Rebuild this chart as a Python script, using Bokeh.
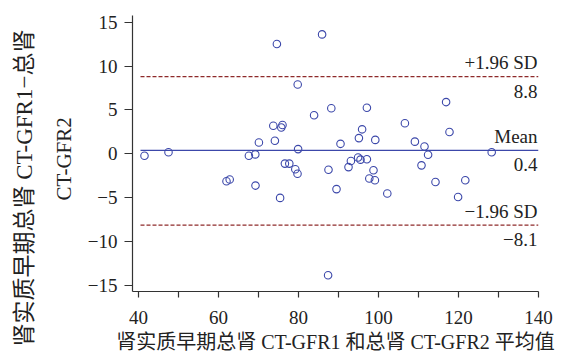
from bokeh.plotting import figure
from bokeh.models import Range1d, FixedTicker, Label, Title
from bokeh.embed import file_html
from bokeh.resources import INLINE

# ---- data ----
mean_vals = [41.5, 47.5, 62.0, 62.8, 67.6, 69.2, 69.25, 70.1, 74.6, 85.9,
             79.8, 88.2, 83.9, 73.7, 76.0, 75.7, 74.1, 79.9, 90.5, 95.1,
             76.6, 77.7, 79.2, 79.75, 87.5, 93.1, 92.5, 94.9, 89.5, 75.4,
             87.4, 97.1, 116.9, 106.6, 95.9, 117.75, 99.2, 109.1, 111.5, 112.4,
             95.5, 97.1, 98.75, 110.75, 97.7, 99.1, 114.25, 102.2, 119.9, 128.3,
             121.7]
diff_vals = [-0.2, 0.2, -3.1, -2.9, -0.2, -0.05, -3.6, 1.3, 12.5, 13.6,
             7.9, 5.2, 4.4, 3.2, 3.3, 3.0, 1.5, 0.55, 1.15, 1.8,
             -1.1, -1.1, -1.75, -2.25, -1.8, -0.8, -1.5, -0.4, -4.0, -5.0,
             -13.8, 5.25, 5.9, 3.5, 2.8, 2.5, 1.6, 1.4, 0.85, -0.1,
             -0.65, -0.6, -1.85, -1.3, -2.8, -3.0, -3.2, -4.5, -4.9, 0.2,
             -3.0]
mean_diff = 0.4
upper_loa = 8.8
lower_loa = -8.1
line_x = [40.5, 140]

x_ticks = [40, 50, 60, 70, 80, 90, 100, 110, 120, 130, 140]
x_tick_labels = ["40", "", "60", "", "80", "", "100", "", "120", "", "140"]
y_ticks = [-15, -10, -5, 0, 5, 10, 15]
y_tick_labels = ["−15", "−10", "−5", "0", "5", "10", "15"]

x_title = "肾实质早期总肾 CT-GFR1 和总肾 CT-GFR2 平均值"
y_title_1 = "肾实质早期总肾 CT-GFR1−总肾"
y_title_2 = "CT-GFR2"

SERIF = "Liberation Serif"
MIXED = "Liberation Serif, Noto Sans CJK SC"
TXT = "#222222"
BLUE = "#3c48aa"
RED = "#8e2a2a"

p = figure(frame_width=406, frame_height=276, output_backend="svg",
           toolbar_location=None,
           x_range=Range1d(38.5, 140), y_range=Range1d(-15.65, 15.75),
           min_border_left=132, min_border_right=20, min_border_top=15,
           min_border_bottom=60)
p.outline_line_color = None
p.grid.visible = False
p.background_fill_color = "white"

# reference lines
p.line(line_x, [upper_loa, upper_loa], line_color=RED, line_width=1.3, line_dash="4 2")
p.line(line_x, [lower_loa, lower_loa], line_color=RED, line_width=1.3, line_dash="4 2")
p.line(line_x, [mean_diff, mean_diff], line_color=BLUE, line_width=1.3)

p.scatter(mean_vals, diff_vals, marker="circle", size=7.5, fill_color=None,
          line_color=BLUE, line_width=1.1)

# axes
for ax in (p.xaxis[0], p.yaxis[0]):
    ax.axis_line_color = "#333333"
    ax.axis_line_width = 1.2
    ax.major_tick_line_color = "#333333"
    ax.major_tick_line_width = 1.2
    ax.major_tick_in = 0
    ax.minor_tick_line_color = None
    ax.major_label_text_font = SERIF
    ax.major_label_text_font_size = "19px"
    ax.major_label_text_color = TXT

p.xaxis.ticker = FixedTicker(ticks=x_ticks)
p.xaxis.major_label_overrides = {t: l for t, l in zip(x_ticks, x_tick_labels)}
p.xaxis.major_tick_out = 6
p.xaxis.major_label_standoff = 13
p.xaxis.axis_label = x_title
p.xaxis.axis_label_text_font = MIXED
p.xaxis.axis_label_text_font_size = "20px"
p.xaxis.axis_label_text_font_style = "normal"
p.xaxis.axis_label_text_color = TXT
p.xaxis.axis_label_standoff = 4

p.yaxis.ticker = FixedTicker(ticks=y_ticks)
p.yaxis.major_label_overrides = {t: l for t, l in zip(y_ticks, y_tick_labels)}
p.yaxis.major_tick_out = 8
p.yaxis.major_label_standoff = 7

# y title: two lines as left-side titles (offset measured from frame bottom)
t2 = Title(text=y_title_2, align="left", offset=91, standoff=17,
           text_font=SERIF, text_font_size="21px", text_font_style="normal",
           text_color=TXT)
t1 = Title(text=y_title_1, align="left", offset=-55, standoff=10,
           text_font=MIXED, text_font_size="23px", text_font_style="normal",
           text_color=TXT)
p.add_layout(t2, "left")
p.add_layout(t1, "left")

# line annotations
def fmt(v):
    return f"{v:.1f}".replace("-", "−")

ann = [("+1.96 SD", upper_loa, True), (fmt(upper_loa), upper_loa, False),
       ("Mean", mean_diff, True), (fmt(mean_diff), mean_diff, False),
       ("−1.96 SD", lower_loa, True), (fmt(lower_loa), lower_loa, False)]
for txt, yv, above in ann:
    p.add_layout(Label(x=line_x[1], y=yv, text=txt, text_align="right",
                       text_baseline="alphabetic" if above else "top",
                       y_offset=14 if above else -8, x_offset=-1,
                       text_font=SERIF, text_font_size="19px", text_color=TXT))

open("out.html", "w").write(file_html(p, INLINE))
